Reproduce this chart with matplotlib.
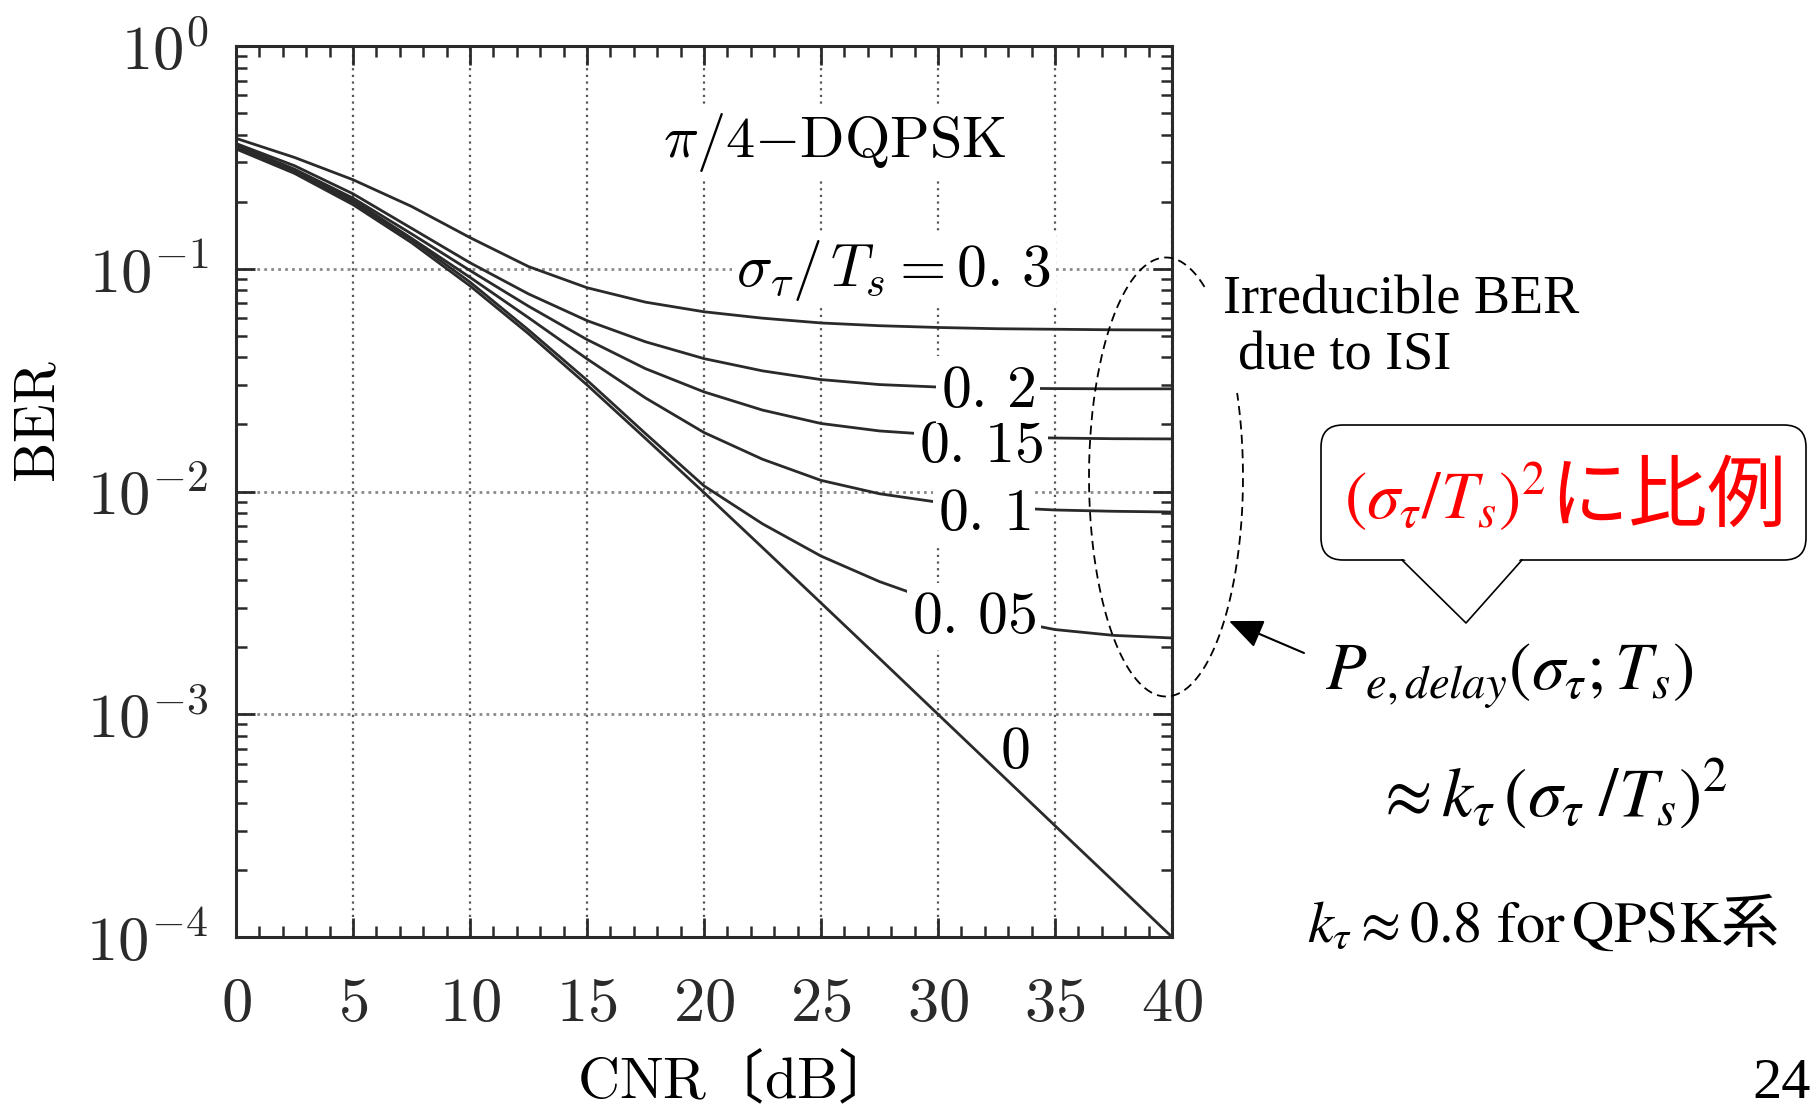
import numpy as np
import matplotlib
matplotlib.use("Agg")
import matplotlib.pyplot as plt
import matplotlib.transforms as mtransforms
from matplotlib.ticker import MultipleLocator, LogLocator, FuncFormatter, NullFormatter
from matplotlib.patches import FancyBboxPatch, Polygon, FancyArrowPatch
from matplotlib.lines import Line2D

plt.rcParams['mathtext.fontset'] = 'cm'
plt.rcParams['font.family'] = ['DejaVu Serif']

# ---------------- data ----------------
cnr_db = [0, 2.5, 5, 7.5, 10, 12.5, 15, 17.5, 20, 22.5, 25, 27.5, 30, 32.5, 35, 37.5, 40]
ber_000 = [0.345, 0.268, 0.194, 0.131, 0.0838, 0.0511, 0.0301, 0.0173, 0.00989, 0.0056, 0.00316,
           0.00178, 0.0010, 0.000562, 0.000316, 0.000178, 0.0001]
ber_005 = [0.350, 0.272, 0.198, 0.135, 0.0871, 0.0531, 0.0316, 0.0182, 0.0106, 0.00716, 0.00513,
           0.00394, 0.00318, 0.00270, 0.0024, 0.00226, 0.0022]
ber_010 = [0.355, 0.276, 0.203, 0.137, 0.0915, 0.0603, 0.0394, 0.0263, 0.0184, 0.01396, 0.01122,
           0.00977, 0.00895, 0.00851, 0.00826, 0.00815, 0.00809]
ber_015 = [0.360, 0.280, 0.2075, 0.1435, 0.0982, 0.0679, 0.0481, 0.0356, 0.0280, 0.0232, 0.0202,
           0.0187, 0.01795, 0.01758, 0.01738, 0.01726, 0.01722]
ber_020 = [0.365, 0.290, 0.217, 0.152, 0.1064, 0.0771, 0.0585, 0.0470, 0.0395, 0.0348, 0.0318,
           0.0302, 0.02944, 0.0291, 0.02897, 0.0289, 0.0289]
ber_030 = [0.385, 0.316, 0.251, 0.1905, 0.138, 0.1023, 0.0822, 0.0708, 0.0641, 0.0600, 0.0571,
           0.0555, 0.0545, 0.0538, 0.0535, 0.0532, 0.0531]
series = [ber_000, ber_005, ber_010, ber_015, ber_020, ber_030]
curve_labels = [r'$0$', r'$0.\,05$', r'$0.\,1$', r'$0.\,15$', r'$0.\,2$', r'$\sigma_\tau/\,T_s=0.\,3$']
x_ticks = [0, 5, 10, 15, 20, 25, 30, 35, 40]

# ---------------- layout ----------------
W, H = 1812, 1111
fig = plt.figure(figsize=(W / 100, H / 100), dpi=100)
fig.patch.set_facecolor('white')
L, R, T, B = 236, 1172, 46, 937
ax = fig.add_axes([L / W, 1 - B / H, (R - L) / W, (B - T) / H])

LINE = '#2a2a2a'
for s in series:
    ax.plot(cnr_db, s, color=LINE, lw=2.0, solid_joinstyle='round', zorder=2)

ax.set_yscale('log')
ax.set_xlim(0, 40)
ax.set_ylim(1e-4, 1)
ax.set_xticks(x_ticks)
ax.xaxis.set_minor_locator(MultipleLocator(1))
ax.yaxis.set_major_locator(LogLocator(base=10, numticks=10))
ax.yaxis.set_minor_locator(LogLocator(base=10, subs=np.arange(2, 10), numticks=100))
ax.xaxis.set_major_formatter(FuncFormatter(lambda v, p: r'$%d$' % round(v)))
ax.yaxis.set_major_formatter(FuncFormatter(lambda v, p: r'$10^{%d}$' % round(np.log10(v))))
ax.yaxis.set_minor_formatter(NullFormatter())

ax.tick_params(which='both', direction='in', top=True, right=True, colors=LINE)
ax.tick_params(which='major', length=14, width=2.0)
ax.tick_params(which='minor', length=8, width=1.8)
ax.tick_params(axis='x', which='major', labelsize=45, pad=26)
ax.tick_params(axis='y', which='major', labelsize=45, pad=20)
for sp in ax.spines.values():
    sp.set_linewidth(2.2)
    sp.set_color(LINE)

ax.xaxis.grid(True, which='major', color='#555555', ls=(0, (1, 2)), lw=1.6)
ax.yaxis.grid(True, which='major', color='#8a8a8a', ls=(0, (1, 1.5)), lw=2.0)
ax.set_axisbelow(True)

ax.set_ylabel(r'$\mathrm{BER}$', fontsize=41)
ax.yaxis.set_label_coords(-0.180, 0.578)
ax.set_xlabel(r'$\mathrm{CNR}$〔$\mathrm{dB}$〕', fontsize=42, fontfamily='Noto Sans CJK JP',
              math_fontfamily='cm', va='baseline')
ax.xaxis.set_label_coords(0.514, (B - 1098) / (B - T))

# in-plot text
wbox = dict(boxstyle='square,pad=0.08', fc='white', ec='none')
ax.text(25.6, 10 ** -0.50, r'$\pi/4{-}\mathrm{DQPSK}$', fontsize=42, ha='center', va='baseline',
        bbox=wbox, zorder=4)
label_pos = [(33.3, -3.243), (31.54, -2.637), (31.97, -2.173), (31.84, -1.866), (32.14, -1.619),
             (28.12, -1.077)]
for i, (lab, (lx, ly)) in enumerate(zip(curve_labels, label_pos)):
    ax.text(lx, 10 ** ly, lab, fontsize=43, ha='center', va='baseline',
            bbox=None if i == 0 else wbox, zorder=4)

# ---------------- annotations outside the plot (figure pixels) ----------------
ID = mtransforms.IdentityTransform()

t = np.radians(np.linspace(60, 382.5, 400))
ex = 1166 + 77 * np.cos(t)
ey = (H - 477) + 219.5 * np.sin(t)
fig.add_artist(Line2D(ex, ey, transform=ID, color='black', lw=1.3, ls=(0, (5, 3)), zorder=6))

fig.add_artist(FancyArrowPatch(posA=(1304, H - 653), posB=(1229, H - 621), transform=ID,
                               arrowstyle='-|>,head_length=0.7,head_width=0.3', mutation_scale=30,
                               lw=1.5, color='black', shrinkA=0, shrinkB=0, zorder=6))

serif = 'Liberation Serif'
fig.text(1223, H - 314, 'Irreducible BER', transform=ID, fontfamily=serif, fontsize=39, va='baseline')
fig.text(1238, H - 370, 'due to ISI', transform=ID, fontfamily=serif, fontsize=39, va='baseline')

box = FancyBboxPatch((1321, H - 560), 1806 - 1321, 560 - 425, boxstyle='round,pad=0,rounding_size=22',
                     transform=ID, fc='white', ec='black', lw=1.2, zorder=5)
fig.add_artist(box)
fig.add_artist(Polygon([(1402, H - 557), (1466, H - 623), (1522, H - 557)], closed=True, transform=ID,
                       fc='white', ec='none', zorder=6))
fig.add_artist(Line2D([1402, 1466, 1522], [H - 560, H - 623, H - 560], transform=ID, color='black',
                      lw=1.2, zorder=7))
fig.text(1344, H - 519, r'$(\sigma_\tau/T_s)^2$', transform=ID, ha='left', va='baseline',
         color='red', fontsize=48, math_fontfamily='stix', zorder=8)
fig.text(1549, H - 521, 'に比例', transform=ID, ha='left', va='baseline',
         color='red', fontsize=57, fontfamily='Noto Sans CJK JP', zorder=8)

fig.text(1325, H - 690, r'$P_{e,delay}(\sigma_\tau;T_s)$', transform=ID, fontsize=48,
         math_fontfamily='stix', va='baseline')
fig.text(1374, H - 817, r'$\approx k_\tau\,(\sigma_\tau\;/T_s)^2$', transform=ID, fontsize=50,
         math_fontfamily='stix', va='baseline')
fig.text(1307, H - 942, r'$k_\tau \approx 0.8\ \mathrm{for}\,\mathrm{QPSK}$系', transform=ID, fontsize=42,
         fontfamily='Noto Sans CJK JP', math_fontfamily='stix', va='baseline')
fig.text(1752, H - 1098, '24', transform=ID, fontfamily=serif, fontsize=42, va='baseline')

fig.savefig('out.png', dpi=100, facecolor='white')
